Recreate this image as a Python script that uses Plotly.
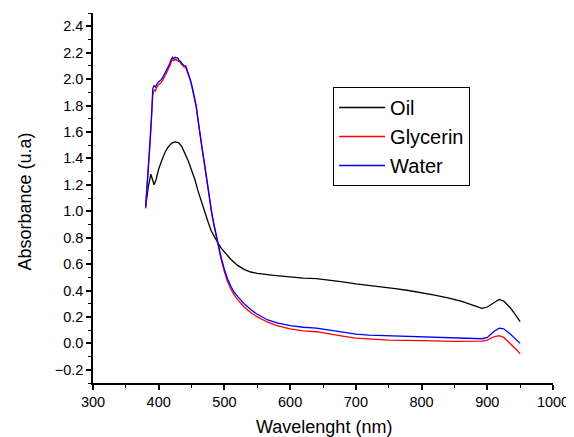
import plotly.graph_objects as go

oil_x = [380, 384, 388, 390, 393, 396, 400, 405, 410, 415, 420, 425, 430, 435, 440, 445, 450, 455, 460, 465,
         470, 475, 480, 485, 490, 495, 500, 510, 520, 530, 540, 550, 575, 600, 620, 640, 660, 680, 700, 720,
         740, 760, 780, 800, 820, 840, 860, 880, 892, 900, 910, 918, 925, 935, 945, 950]
oil_y = [1.03, 1.18, 1.28, 1.25, 1.20, 1.24, 1.32, 1.39, 1.45, 1.49, 1.515, 1.525, 1.52, 1.49, 1.44, 1.38, 1.31, 1.24, 1.15, 1.07,
         0.99, 0.92, 0.85, 0.80, 0.76, 0.72, 0.69, 0.635, 0.59, 0.56, 0.54, 0.53, 0.515, 0.50, 0.493, 0.49, 0.48, 0.465, 0.45, 0.44,
         0.43, 0.415, 0.40, 0.385, 0.365, 0.345, 0.32, 0.285, 0.265, 0.275, 0.31, 0.333, 0.32, 0.27, 0.20, 0.165]

wl_x = [380, 384, 387, 389, 391, 393, 395, 397, 400, 403, 406, 409, 412, 415, 417, 419, 421, 423, 425, 427,
        429, 431, 433, 435, 437, 439, 441, 443, 445, 448, 451, 454, 457, 460, 463, 466, 470, 473, 477, 481,
        485, 490, 495, 500, 505, 510, 515, 521, 530, 541, 550, 566, 580, 600, 620, 640, 660, 680, 700, 720,
        750, 800, 850, 892, 900, 910, 918, 925, 935, 945, 950]
water_y = [1.03, 1.30, 1.55, 1.72, 1.93, 1.95, 1.94, 1.96, 1.98, 1.99, 2.01, 2.04, 2.07, 2.09, 2.12, 2.15, 2.165, 2.155, 2.165, 2.16,
           2.16, 2.14, 2.135, 2.12, 2.11, 2.10, 2.10, 2.07, 2.05, 2.00, 1.94, 1.87, 1.80, 1.69, 1.60, 1.48, 1.35, 1.24, 1.10, 0.98,
           0.88, 0.76, 0.65, 0.56, 0.485, 0.43, 0.385, 0.35, 0.30, 0.252, 0.22, 0.177, 0.155, 0.135, 0.122, 0.115, 0.10, 0.085, 0.07, 0.062,
           0.057, 0.05, 0.04, 0.035, 0.045, 0.09, 0.115, 0.11, 0.07, 0.025, 0.0]
glycerin_y = [1.02, 1.28, 1.52, 1.70, 1.88, 1.92, 1.91, 1.94, 1.96, 1.97, 1.99, 2.02, 2.05, 2.07, 2.10, 2.13, 2.15, 2.14, 2.15, 2.145,
              2.14, 2.13, 2.125, 2.11, 2.10, 2.09, 2.09, 2.06, 2.04, 1.99, 1.93, 1.86, 1.79, 1.68, 1.59, 1.47, 1.34, 1.23, 1.09, 0.97,
              0.87, 0.75, 0.635, 0.54, 0.465, 0.41, 0.365, 0.325, 0.275, 0.23, 0.20, 0.16, 0.135, 0.11, 0.095, 0.088, 0.07, 0.055, 0.04, 0.032,
              0.025, 0.02, 0.015, 0.017, 0.025, 0.05, 0.058, 0.045, 0.0, -0.05, -0.08]

y_ticks = [-0.2, 0.0, 0.2, 0.4, 0.6, 0.8, 1.0, 1.2, 1.4, 1.6, 1.8, 2.0, 2.2, 2.4]
x_title = "Wavelenght (nm)"
y_title = "Absorbance (u.a)"

font = "Liberation Sans, Arial, sans-serif"

fig = go.Figure()
fig.add_trace(go.Scatter(x=oil_x, y=oil_y, mode="lines", name="Oil", line=dict(color="#000000", width=1.3)))
fig.add_trace(go.Scatter(x=wl_x, y=glycerin_y, mode="lines", name="Glycerin", line=dict(color="#ff0000", width=1.3)))
fig.add_trace(go.Scatter(x=wl_x, y=water_y, mode="lines", name="Water", line=dict(color="#0000ff", width=1.3)))

# page body has an 8px default margin, so the figure is sized/offset to compensate
fig.update_layout(
    width=566, height=429,
    margin=dict(l=85, r=21, t=5, b=54),
    paper_bgcolor="white", plot_bgcolor="white",
    font=dict(family=font, size=14.5, color="black"),
    showlegend=True,
    legend=dict(x=0.522, y=0.80, xanchor="left", yanchor="top",
                bordercolor="black", borderwidth=1, bgcolor="white",
                font=dict(size=20, family=font), itemwidth=46,
                tracegroupgap=0),
    xaxis=dict(range=[300, 1000], dtick=100, showgrid=False, zeroline=False, automargin=False,
               showline=True, linecolor="black", linewidth=1.5,
               ticks="outside", ticklen=5, tickwidth=1.5, tickcolor="black",
               minor=dict(ticks="outside", ticklen=3, dtick=50, tickcolor="black", tickwidth=1.2)),
    yaxis=dict(range=[-0.3, 2.5], tickvals=y_ticks,
               tickformat=".1f", showgrid=False, zeroline=False, automargin=False,
               showline=True, linecolor="black", linewidth=1.5,
               ticks="outside", ticklen=5, tickwidth=1.5, tickcolor="black",
               minor=dict(ticks="outside", ticklen=3, dtick=0.1, tick0=0, tickcolor="black", tickwidth=1.2)),
    annotations=[
        dict(text=x_title, xref="paper", yref="paper", x=0.502, y=-0.118, xanchor="center", yanchor="middle",
             showarrow=False, font=dict(size=18, family=font)),
        dict(text=y_title, xref="paper", yref="paper", x=-0.1478, y=0.4905, xanchor="center", yanchor="middle",
             textangle=-90, showarrow=False, font=dict(size=18, family=font)),
    ],
)

fig.write_html("out.html")
